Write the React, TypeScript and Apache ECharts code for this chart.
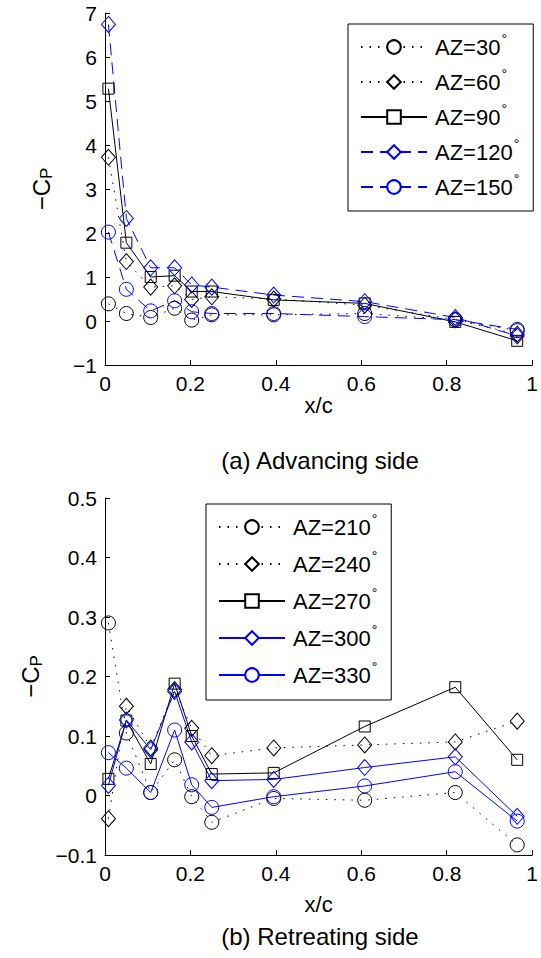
import React, { useEffect, useRef } from 'react';
import * as echarts from 'echarts';

// chordwise stations x/c
const xPos = [0.008, 0.05, 0.107, 0.163, 0.203, 0.25, 0.395, 0.608, 0.82, 0.965];

// (a) Advancing side, -Cp
const advNames = ['AZ=30', 'AZ=60', 'AZ=90', 'AZ=120', 'AZ=150'];
const az30 = [0.39, 0.17, 0.08, 0.29, 0.02, 0.14, 0.14, 0.17, 0.03, -0.22];
const az60 = [3.72, 1.35, 0.77, 0.8, 0.49, 0.55, 0.5, 0.36, 0.03, -0.3];
const az90 = [5.28, 1.78, 1.0, 1.03, 0.67, 0.67, 0.48, 0.4, -0.02, -0.45];
const az120 = [6.74, 2.33, 1.21, 1.21, 0.82, 0.77, 0.59, 0.44, 0.08, -0.34];
const az150 = [2.02, 0.72, 0.23, 0.46, 0.21, 0.17, 0.17, 0.1, 0.03, -0.19];

// (b) Retreating side, -Cp
const retNames = ['AZ=210', 'AZ=240', 'AZ=270', 'AZ=300', 'AZ=330'];
const az210 = [0.29, 0.105, 0.005, 0.06, -0.002, -0.045, -0.005, -0.008, 0.005, -0.083];
const az240 = [-0.039, 0.15, 0.08, 0.178, 0.113, 0.067, 0.08, 0.085, 0.09, 0.125];
const az270 = [0.028, 0.126, 0.053, 0.188, 0.1, 0.036, 0.038, 0.116, 0.182, 0.06];
const az300 = [0.017, 0.127, 0.077, 0.175, 0.09, 0.025, 0.027, 0.047, 0.065, -0.035];
const az330 = [0.072, 0.046, 0.005, 0.11, 0.018, -0.02, -0.002, 0.016, 0.04, -0.043];

const advValues = [az30, az60, az90, az120, az150];
const retValues = [az210, az240, az270, az300, az330];

const FONT = "'Liberation Sans', Arial, Helvetica, sans-serif";
const BLUE = '#0000ff';
const BLACK = '#000000';
const DOT = [1.5, 7];
const DASH = [12, 7];

type Sty = { color: string; dash: any; symbol: string; size: any };
const advStyles: Sty[] = [
  { color: BLACK, dash: DOT, symbol: 'circle', size: 14 },
  { color: BLACK, dash: DOT, symbol: 'diamond', size: [14, 16] },
  { color: BLACK, dash: 'solid', symbol: 'rect', size: 11 },
  { color: BLUE, dash: DASH, symbol: 'diamond', size: [14, 16] },
  { color: BLUE, dash: DASH, symbol: 'circle', size: 14 },
];
const retStyles: Sty[] = [
  { color: BLACK, dash: DOT, symbol: 'circle', size: 14 },
  { color: BLACK, dash: DOT, symbol: 'diamond', size: [14, 16] },
  { color: BLACK, dash: 'solid', symbol: 'rect', size: 11 },
  { color: BLUE, dash: 'solid', symbol: 'diamond', size: [14, 16] },
  { color: BLUE, dash: 'solid', symbol: 'circle', size: 14 },
];

const minus = (s: string) => s.replace('-', '\u2212');

function makeSeries(name: string, vals: number[], st: Sty, idx: number) {
  return {
    type: 'line',
    name,
    xAxisIndex: idx,
    yAxisIndex: idx,
    data: xPos.map((x, i) => [x, vals[i]]),
    symbol: st.symbol,
    symbolSize: st.size,
    showAllSymbol: true,
    lineStyle: { color: st.color, width: 1, type: st.dash },
    itemStyle: { color: 'rgba(0,0,0,0)', borderColor: st.color, borderWidth: 1 },
    emphasis: { disabled: true },
    z: 2,
  };
}

const axisCommon = {
  axisLine: { show: true, onZero: false, lineStyle: { color: '#000', width: 1 } },
  axisTick: { show: true, inside: true, length: 5, lineStyle: { color: '#000' } },
  splitLine: { show: false },
  axisLabel: { color: '#000', fontSize: 21, fontFamily: FONT, margin: 8 },
};

const legendText = {
  color: '#000',
  fontSize: 22,
  fontFamily: FONT,
  lineHeight: 30,
  padding: [0, 0, 0, 3],
  rich: {
    d: { fontSize: 14, fontFamily: FONT, color: '#000', verticalAlign: 'top', lineHeight: 8, padding: [0, 0, 0, 1] },
  },
};

export default function App() {
  const ref = useRef<HTMLDivElement>(null);
  useEffect(() => {
    if (!ref.current) return;
    const chart = echarts.init(ref.current, undefined, { renderer: 'svg' });
    const series: any[] = [];
    advNames.forEach((n, i) => series.push(makeSeries(n, advValues[i], advStyles[i], 0)));
    retNames.forEach((n, i) => series.push(makeSeries(n, retValues[i], retStyles[i], 1)));

    const yName = '\u2212C{s|P}';
    const yNameStyle = {
      color: '#000',
      fontSize: 24,
      fontFamily: FONT,
      lineHeight: 28,
      rich: { s: { fontSize: 17, fontFamily: FONT, color: '#000', verticalAlign: 'bottom', lineHeight: 12 } },
    };

    chart.setOption({
      animation: false,
      backgroundColor: '#fff',
      grid: [
        { left: 105, top: 13, width: 430, height: 352 },
        { left: 105, top: 498, width: 430, height: 357 },
      ],
      xAxis: [
        {
          ...axisCommon, type: 'value', gridIndex: 0, min: 0, max: 1, interval: 0.2,
          name: 'x/c', nameLocation: 'middle', nameGap: 29,
          nameTextStyle: { color: '#000', fontSize: 22, fontFamily: FONT },
        },
        {
          ...axisCommon, type: 'value', gridIndex: 1, min: 0, max: 1, interval: 0.2,
          name: 'x/c', nameLocation: 'middle', nameGap: 38,
          nameTextStyle: { color: '#000', fontSize: 22, fontFamily: FONT },
        },
      ],
      yAxis: [
        {
          ...axisCommon, type: 'value', gridIndex: 0, min: -1, max: 7, interval: 1,
          axisLabel: { ...axisCommon.axisLabel, formatter: (v: number) => minus(String(v)) },
          name: yName, nameLocation: 'middle', nameGap: 50, nameRotate: 90, nameTextStyle: yNameStyle,
        },
        {
          ...axisCommon, type: 'value', gridIndex: 1, min: -0.1, max: 0.5, interval: 0.1,
          axisLabel: { ...axisCommon.axisLabel, formatter: (v: number) => minus(String(Math.round(v * 10) / 10)) },
          name: yName, nameLocation: 'middle', nameGap: 50, nameRotate: 90, nameTextStyle: yNameStyle,
        },
      ],
      legend: [
        {
          data: advNames, orient: 'vertical', left: 348, top: 24,
          itemWidth: 66, itemHeight: 17, itemGap: 5,
          padding: [8, 14, 9, 12], borderColor: '#000', borderWidth: 1, backgroundColor: '#fff',
          itemStyle: { color: '#fff' },
          formatter: (n: string) => n + '{d|\u00b0}',
          textStyle: legendText, selectedMode: false,
        },
        {
          data: retNames, orient: 'vertical', left: 206, top: 504,
          itemWidth: 66, itemHeight: 17, itemGap: 7,
          padding: [8, 14, 10, 12], borderColor: '#000', borderWidth: 1, backgroundColor: '#fff',
          itemStyle: { color: '#fff' },
          formatter: (n: string) => n + '{d|\u00b0}',
          textStyle: legendText, selectedMode: false,
        },
      ],
      graphic: [
        { type: 'text', x: 320, y: 460, style: { text: '(a) Advancing side', fontSize: 24, fontFamily: FONT, fill: '#000', textAlign: 'center', textVerticalAlign: 'middle' } },
        { type: 'text', x: 320, y: 936, style: { text: '(b) Retreating side', fontSize: 24, fontFamily: FONT, fill: '#000', textAlign: 'center', textVerticalAlign: 'middle' } },
      ],
      series,
    });
    return () => chart.dispose();
  }, []);
  return <div ref={ref} style={{ position: 'absolute', left: 0, top: 0, width: 541, height: 958 }} />;
}
